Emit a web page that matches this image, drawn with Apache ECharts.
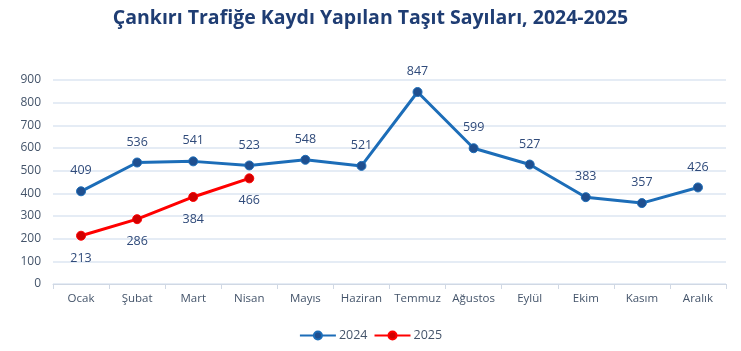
<!DOCTYPE html>
<html><head><meta charset="utf-8">
<script src="https://cdn.jsdelivr.net/npm/echarts@6/dist/echarts.min.js"></script>
<style>html,body{margin:0;padding:0;background:#fff}#c{width:741px;height:351px}</style>
</head><body><div id="c"></div>
<script>
const months = ['Ocak','Şubat','Mart','Nisan','Mayıs','Haziran','Temmuz','Ağustos','Eylül','Ekim','Kasım','Aralık'];
const values2024 = [409,536,541,523,548,521,847,599,527,383,357,426];
const values2025 = [213,286,384,466];
const yTicks = {min:0, max:900, interval:100};

const chart = echarts.init(document.getElementById('c'));
const lblColor = '#2f4a7a';
chart.setOption({
  animation:false,
  title:{text:'Çankırı Trafiğe Kaydı Yapılan Taşıt Sayıları, 2024-2025',left:'center',top:3,
    textStyle:{fontFamily:'Open Sans',fontWeight:'bold',fontSize:19.5,color:'#1f3d73'}},
  legend:{bottom:4,left:'center',itemWidth:36,itemHeight:10,itemGap:6,
    textStyle:{fontFamily:'Open Sans',fontSize:12.5,color:'#44546a',padding:[0,0,0,-2]},
    data:['2024','2025']},
  grid:{left:53,right:15,top:80,bottom:67},
  xAxis:{type:'category',data:months,boundaryGap:true,
    axisLine:{lineStyle:{color:'#d0d8e4'}},
    axisTick:{show:true,alignWithLabel:false,lineStyle:{color:'#d0d8e4'}},
    axisLabel:{interval:0,fontFamily:'Open Sans',fontSize:11.5,color:'#44546a',margin:9}},
  yAxis:{type:'value',min:yTicks.min,max:yTicks.max,interval:yTicks.interval,
    axisLine:{show:false},axisTick:{show:false},
    splitLine:{lineStyle:{color:'#dce6f2',width:1.5}},
    axisLabel:{fontFamily:'Open Sans',fontSize:12,color:'#44546a',margin:12}},
  series:[
    {name:'2024',type:'line',data:values2024,symbol:'circle',symbolSize:9,
     lineStyle:{color:'#1c6db8',width:3},itemStyle:{color:'#1f4f8f',borderColor:'#1c6db8',borderWidth:1},
     label:{show:true,position:'top',distance:9,fontFamily:'Open Sans',fontSize:12.5,color:lblColor}},
    {name:'2025',type:'line',data:values2025,symbol:'circle',symbolSize:9,
     lineStyle:{color:'#ff0000',width:3},itemStyle:{color:'#d00000',borderColor:'#ff0000',borderWidth:1},
     label:{show:true,position:'bottom',distance:11,fontFamily:'Open Sans',fontSize:12.5,color:lblColor}}
  ]
});
</script></body></html>
